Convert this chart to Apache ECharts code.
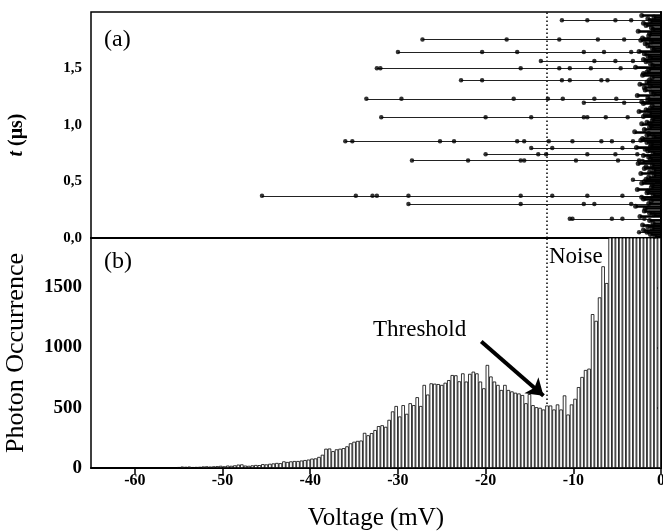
<!DOCTYPE html>
<html><head><meta charset="utf-8">
<script src="https://cdn.jsdelivr.net/npm/echarts@6/dist/echarts.min.js"></script>
<style>html,body{margin:0;padding:0;background:#fff}#c{width:663px;height:531px}</style>
</head><body><div id="c"></div>
<script>
// ---------- (b) histogram: bin centres (mV) and photon counts ----------
const binCenters = [
 -64.6,-64.2,-63.8,-63.4,-63.0,-62.6,-62.2,-61.8,-61.4,-61.0,
 -60.6,-60.2,-59.8,-59.4,-59.0,-58.6,-58.2,-57.8,-57.4,-57.0,
 -56.6,-56.2,-55.8,-55.4,-55.0,-54.6,-54.2,-53.8,-53.4,-53.0,
 -52.6,-52.2,-51.8,-51.4,-51.0,-50.6,-50.2,-49.8,-49.4,-49.0,
 -48.6,-48.2,-47.8,-47.4,-47.0,-46.6,-46.2,-45.8,-45.4,-45.0,
 -44.6,-44.2,-43.8,-43.4,-43.0,-42.6,-42.2,-41.8,-41.4,-41.0,
 -40.6,-40.2,-39.8,-39.4,-39.0,-38.6,-38.2,-37.8,-37.4,-37.0,
 -36.6,-36.2,-35.8,-35.4,-35.0,-34.6,-34.2,-33.8,-33.4,-33.0,
 -32.6,-32.2,-31.8,-31.4,-31.0,-30.6,-30.2,-29.8,-29.4,-29.0,
 -28.6,-28.2,-27.8,-27.4,-27.0,-26.6,-26.2,-25.8,-25.4,-25.0,
 -24.6,-24.2,-23.8,-23.4,-23.0,-22.6,-22.2,-21.8,-21.4,-21.0,
 -20.6,-20.2,-19.8,-19.4,-19.0,-18.6,-18.2,-17.8,-17.4,-17.0,
 -16.6,-16.2,-15.8,-15.4,-15.0,-14.6,-14.2,-13.8,-13.4,-13.0,
 -12.6,-12.2,-11.8,-11.4,-11.0,-10.6,-10.2,-9.8,-9.4,-9.0,
 -8.6,-8.2,-7.8,-7.4,-7.0,-6.6,-6.2,-5.8,-5.4,-5.0,
 -4.6,-4.2,-3.8,-3.4,-3.0,-2.6,-2.2,-1.8,-1.4,-1.0,
 -0.6,-0.2
];
const counts = [
 0,0,0,0,6,6,0,6,6,0,
 6,5,0,0,5,6,6,5,6,6,
 7,6,7,7,8,12,10,12,8,9,
 10,13,14,12,14,15,18,14,20,18,
 22,28,30,20,18,22,25,24,32,30,
 35,38,42,40,55,50,55,58,58,62,
 66,70,78,80,92,110,160,162,140,155,
 160,165,180,205,218,225,228,292,272,290,
 315,348,355,342,400,470,515,428,522,450,
 538,522,588,515,690,610,703,700,697,690,
 708,730,772,770,720,786,718,782,800,786,
 718,662,856,760,718,690,648,690,648,636,
 625,619,606,538,614,522,505,500,486,519,
 519,486,528,486,603,444,528,575,672,756,
 814,825,1278,1222,1417,1675,1536,2100,2400,2700,
 3000,3300,3500,3700,3900,4000,4100,4200,4300,4300,
 4400,4400
];
const voltageTicks = [-60, -50, -40, -30, -20, -10, 0];

// ---------- (a) photon tracks: time (µs) and dot voltages (mV) ----------
const trackTimes = [1.927,1.756,1.647,1.567,1.503,1.397,1.232,1.197,1.068,0.856,0.797,0.741,0.685,0.515,0.373,0.300,0.170,0.050];
const trackDots = [
 [-11.3,-8.4,-5.2,-3.4],
 [-27.2,-17.6,-11.6,-7.2,-4.2],
 [-30.0,-20.4,-16.4,-8.8,-6.5,-3.4],
 [-13.7,-7.6,-5.2,-3.2],
 [-32.4,-32.0,-16.0,-11.6,-10.4,-8.0,-4.6],
 [-22.8,-20.4,-11.3,-10.4,-6.8,-6.1],
 [-33.6,-29.6,-16.8,-12.9,-11.2,-7.6,-5.1],
 [-8.8,-4.2],
 [-31.9,-20.0,-14.8,-8.8,-8.4,-6.3,-3.8],
 [-36.0,-35.2,-25.2,-23.6,-16.4,-15.6,-12.8,-10.1,-6.8,-5.6,-3.2],
 [-14.8,-12.4,-4.4],
 [-20.0,-14.0,-13.1,-8.4,-5.2,-2.7],
 [-28.4,-22.0,-16.0,-15.6,-9.7,-4.9,-2.5],
 [-3.2],
 [-45.5,-34.8,-32.9,-32.4,-28.8,-16.0,-12.4,-8.4,-4.4],
 [-28.8,-16.0,-8.8,-7.6,-3.4],
 [-10.4,-10.1,-5.6,-4.4,-1.9],
 [-2.5]
];
// dense noise events near 0 mV (time µs, start voltage mV)
const noiseTimes = [0.03,0.07,0.10,0.13,0.19,0.22,0.26,0.28,0.33,0.36,0.40,0.43,0.47,0.50,0.54,0.57,0.60,0.63,0.66,0.70,0.73,0.77,0.80,0.83,0.88,0.91,0.94,0.98,1.01,1.04,1.09,1.12,1.15,1.19,1.22,1.26,1.29,1.33,1.36,1.40,1.44,1.47,1.51,1.54,1.58,1.61,1.65,1.68,1.72,1.75,1.79,1.83,1.86,1.90,1.94,1.97];
const noiseStarts = [-1.2,-2.0,-1.5,-0.9,-2.4,-1.3,-1.8,-2.9,-1.1,-2.2,-1.6,-2.7,-1.0,-1.9,-1.4,-2.3,-0.8,-1.7,-2.6,-1.2,-2.0,-1.5,-2.8,-1.1,-2.1,-1.6,-3.0,-1.3,-2.2,-1.0,-1.8,-2.5,-1.2,-2.0,-1.5,-2.7,-1.1,-1.9,-2.4,-1.3,-2.1,-1.6,-2.9,-1.2,-2.0,-1.5,-2.5,-1.0,-1.8,-2.3,-1.4,-2.6,-1.1,-2.0,-1.5,-2.2];
const noiseTimes2 = [0.015,0.05,0.085,0.115,0.155,0.205,0.24,0.305,0.345,0.38,0.415,0.45,0.485,0.52,0.555,0.585,0.615,0.645,0.68,0.715,0.75,0.785,0.815,0.845,0.865,0.895,0.925,0.96,0.995,1.025,1.06,1.075,1.105,1.135,1.17,1.205,1.24,1.275,1.31,1.345,1.38,1.42,1.455,1.49,1.525,1.56,1.595,1.63,1.665,1.70,1.735,1.77,1.81,1.845,1.88,1.92,1.955];
const noiseStarts2 = [-0.7,-1.6,-1.0,-2.1,-1.3,-0.8,-1.9,-1.4,-2.0,-0.9,-1.5,-1.1,-2.2,-1.7,-0.8,-1.3,-1.9,-1.0,-2.1,-1.4,-0.9,-1.8,-1.2,-1.6,-2.3,-0.8,-1.4,-1.9,-1.1,-1.6,-0.9,-2.0,-1.3,-1.7,-1.0,-2.2,-1.5,-0.8,-1.8,-1.2,-1.6,-1.0,-2.0,-1.4,-0.9,-1.7,-1.2,-1.9,-0.8,-1.5,-1.1,-2.1,-1.3,-0.9,-1.7,-1.2,-0.8];

// ---------- annotations ----------
const thresholdVoltage = -13.0;
const arrowStart = [-20.5, 1050];
const arrowEnd = [-13.4, 600];
const xRange = [-65, 0];
const tRange = [0, 2.0];
const countRange = [0, 1910];

const serif = "'Liberation Serif','Times New Roman',serif";

// build marks
const trackLines = [], trackPoints = [];
trackTimes.forEach((t, i) => {
  const dots = trackDots[i];
  trackLines.push({coords: [[Math.min(...dots), t], [0, t]]});
  dots.forEach(v => trackPoints.push([v, t]));
});
const noiseLines = [], noisePoints = [];
[[noiseTimes, noiseStarts], [noiseTimes2, noiseStarts2]].forEach(([ts, vs]) => {
  ts.forEach((t, i) => {
    noiseLines.push({coords: [[vs[i], t], [0, t]]});
    noisePoints.push([vs[i], t]);
  });
});
const histData = binCenters.map((c, i) => [c, counts[i]]);

const chart = echarts.init(document.getElementById('c'), null, {renderer: 'canvas'});
const axisLineStyle = {lineStyle: {color: '#000', width: 2}};
chart.setOption({
  animation: false,
  backgroundColor: '#fff',
  grid: [
    {left: 91, right: 2, top: 12, height: 226, show: true, borderColor: '#000', borderWidth: 1.5,
     containLabel: false, outerBoundsMode: 'none'},
    {left: 91, right: 2, top: 238, height: 230, show: true, borderColor: '#000', borderWidth: 1.5,
     containLabel: false, outerBoundsMode: 'none'}
  ],
  xAxis: [
    {type: 'value', gridIndex: 0, min: xRange[0], max: xRange[1], interval: 5,
     axisLine: axisLineStyle, axisTick: {show: false}, axisLabel: {show: false}, splitLine: {show: false}},
    {type: 'value', gridIndex: 1, min: xRange[0], max: xRange[1], interval: 5,
     name: 'Voltage (mV)', nameLocation: 'middle', nameGap: 38,
     nameTextStyle: {fontFamily: serif, fontSize: 25, color: '#000'},
     axisLine: axisLineStyle,
     axisTick: {length: 6, inside: false, customValues: voltageTicks, lineStyle: {color: '#000', width: 1.5}},
     axisLabel: {fontFamily: serif, fontSize: 16, fontWeight: 'bold', color: '#000', margin: 5,
       customValues: voltageTicks},
     splitLine: {show: false}}
  ],
  yAxis: [
    {type: 'value', gridIndex: 0, min: tRange[0], max: tRange[1], interval: 0.5,
     axisLine: axisLineStyle, axisTick: {length: 6, lineStyle: {color: '#000', width: 1.5}},
     axisLabel: {fontFamily: serif, fontSize: 15, fontWeight: 'bold', color: '#000', margin: 9, showMaxLabel: false,
       formatter: v => v.toFixed(1).replace('.', ',')},
     splitLine: {show: false}},
    {type: 'value', gridIndex: 1, min: countRange[0], max: countRange[1], interval: 500,
     name: 'Photon Occurrence', nameLocation: 'middle', nameGap: 62,
     nameTextStyle: {fontFamily: serif, fontSize: 26, color: '#000'},
     axisLine: axisLineStyle, axisTick: {length: 6, lineStyle: {color: '#000', width: 1.5}},
     axisLabel: {fontFamily: serif, fontSize: 19, fontWeight: 'bold', color: '#000', margin: 9, showMaxLabel: false,
       formatter: v => (v % 500 === 0 ? String(v) : '')},
     splitLine: {show: false}}
  ],
  series: [
    {type: 'line', xAxisIndex: 0, yAxisIndex: 0, z: 1, symbol: 'none', silent: true,
     data: [[thresholdVoltage, tRange[0]], [thresholdVoltage, tRange[1]]],
     lineStyle: {color: '#000', width: 1.5, type: [1.5, 2.5]}},
    {type: 'lines', coordinateSystem: 'cartesian2d', xAxisIndex: 0, yAxisIndex: 0, z: 2,
     data: trackLines, lineStyle: {color: '#222', width: 1.1, opacity: 1}},
    {type: 'lines', coordinateSystem: 'cartesian2d', xAxisIndex: 0, yAxisIndex: 0, z: 2,
     data: noiseLines, lineStyle: {color: '#000', width: 2.5, opacity: 1}},
    {type: 'scatter', xAxisIndex: 0, yAxisIndex: 0, z: 3, symbolSize: 4.5,
     data: trackPoints, itemStyle: {color: '#000'}},
    {type: 'scatter', xAxisIndex: 0, yAxisIndex: 0, z: 3, symbolSize: 5,
     data: noisePoints, itemStyle: {color: '#000'}},
    {type: 'line', xAxisIndex: 1, yAxisIndex: 1, z: 1, symbol: 'none', silent: true,
     data: [[thresholdVoltage, countRange[0]], [thresholdVoltage, countRange[1]]],
     lineStyle: {color: '#000', width: 1.5, type: [1.5, 2.5]}},
    {type: 'bar', xAxisIndex: 1, yAxisIndex: 1, z: 2, barWidth: 3.5, clip: true,
     data: histData, itemStyle: {color: '#fff', borderColor: '#000', borderWidth: 0.8},
     markLine: {silent: true, symbol: ['none', 'arrow'], symbolSize: 16,
       label: {show: false}, itemStyle: {color: '#000'},
       lineStyle: {color: '#000', width: 4, type: 'solid'},
       emphasis: {disabled: true},
       data: [[{coord: arrowStart}, {coord: arrowEnd}]]}}
  ],
  graphic: [
    {type: 'text', x: 17, y: 135, rotation: Math.PI / 2,
     style: {text: '{it|t} (μs)', align: 'center', verticalAlign: 'middle',
       font: `bold 20px ${serif}`, fill: '#000',
       rich: {it: {fontFamily: serif, fontSize: 20, fontWeight: 'bold', fontStyle: 'italic', fill: '#000'}}}},
    {type: 'text', left: 104, top: 28, style: {text: '(a)', font: `24px ${serif}`, fill: '#000'}},
    {type: 'text', left: 104, top: 250, style: {text: '(b)', font: `24px ${serif}`, fill: '#000'}},
    {type: 'text', left: 549, top: 245, style: {text: 'Noise', font: `23px ${serif}`, fill: '#000'}},
    {type: 'text', left: 373, top: 318, style: {text: 'Threshold', font: `23px ${serif}`, fill: '#000'}}
  ]
});
</script></body></html>
